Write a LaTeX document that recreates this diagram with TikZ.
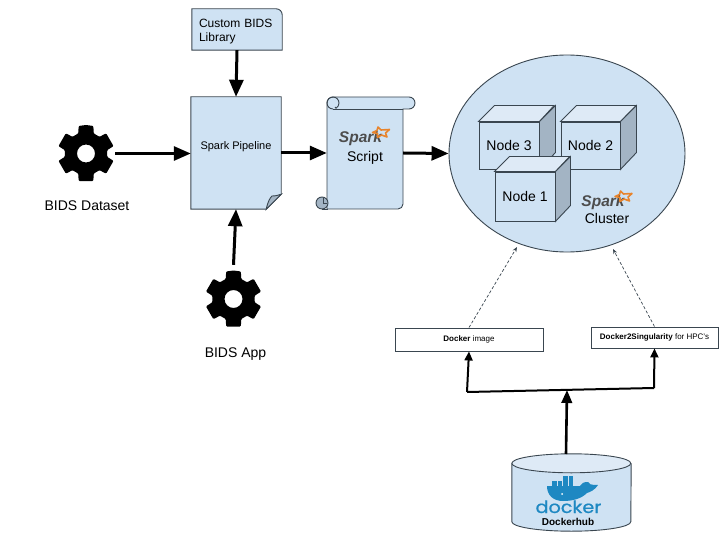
\documentclass[tikz,border=0pt]{standalone}
\usepackage{fontspec}
\setmainfont{Liberation Sans}
\newfontfamily\dockerfont[FakeBold=0.6]{Poppins}
\usepackage{tikz}
\usetikzlibrary{arrows.meta,backgrounds,shapes.geometric}

\definecolor{shapeblue}{HTML}{CFE2F3}
\definecolor{shapelight}{HTML}{DEEAF6}
\definecolor{shapedark}{HTML}{A3B4C4}
\definecolor{shapeline}{HTML}{3A4650}
\definecolor{sparkorange}{HTML}{E8842C}
\definecolor{sparkgrey}{HTML}{4D4D4D}
\definecolor{dockerblue}{HTML}{1E88C2}

\tikzset{
  shp/.style={draw=shapeline,fill=shapeblue,line width=0.9pt},
  shpdark/.style={draw=shapeline,fill=shapedark,line width=0.9pt},
  shplight/.style={draw=shapeline,fill=shapelight,line width=0.9pt},
  holder/.style={rectangle,inner sep=0pt},
  lbl/.style={inner sep=0pt,font=\fontsize{14}{16}\selectfont,text height=10pt,text depth=0pt},
  cubeface/.style={shp,rectangle,inner sep=0pt,font=\fontsize{14}{16}\selectfont,text height=10pt,text depth=0pt},
  whitebox/.style={draw=shapeline,fill=white,line width=0.9pt,rectangle,inner sep=0pt,font=\fontsize{8}{10}\selectfont},
  bigarrow/.style={line width=3pt,-{Triangle[length=17pt,width=14pt]}},
  midarrow/.style={line width=2.6pt,-{Triangle[length=13pt,width=10.5pt]}},
  smallarrow/.style={line width=2pt,-{Triangle[length=9pt,width=8pt]}},
  dasharrow/.style={line width=0.7pt,dash pattern=on 3pt off 2pt,-{Stealth[length=5pt,width=4pt]},draw=shapeline},
  gearicon/.pic={
    \fill[black,even odd rule,rounded corners=1pt] (90:28.5pt) -- (105:28.5pt) -- (111:21.5pt)
      \foreach \a in {150,210,270,330,390}{ -- (\a-21:21.5pt) -- (\a-15:28.5pt) -- (\a+15:28.5pt) -- (\a+21:21.5pt)}
      -- (69:21.5pt) -- (75:28.5pt) -- cycle (0,0) circle[radius=9pt];
  },
  sparklogo/.pic={
    \node[anchor=base,inner sep=0pt,text=sparkgrey,font=\fontsize{15.5}{17}\selectfont\bfseries\itshape] (-word) at (-1.5,0) {Spark};
    \draw[sparkorange,line width=1.6pt,line join=round] (16,-16) -- (19,-13) -- (27.5,-13.5) -- (23.5,-10)
      -- (25,-6) -- (19.5,-8) -- (15.5,-5.5) -- (15.5,-9.5) -- (10.5,-10.5) -- (15,-12.5) -- cycle;
  }
}

\newcommand{\cubesides}[1]{
  \draw[shplight] (#1.north west) -- ++(16,-16) -- ++(59.5,0) -- (#1.north east) -- cycle;
  \draw[shpdark] (#1.north east) -- ++(16,-16) -- ++(0,47) -- (#1.south east) -- cycle;
}

\begin{document}
\begin{tikzpicture}[x=1pt,y=-1pt]
  \useasboundingbox (0,0) rectangle (720,540);

  % left column
  \node[holder,minimum width=90pt,minimum height=41pt] (library) at (237,29.5) {};
  \draw[shp] (library.south west) -- (library.north west) [rounded corners=6pt] -- (library.north east) [sharp corners] -- (library.south east) -- cycle;
  \node[inner sep=0pt,text width=76pt,align=left,font=\fontsize{12}{14}\selectfont] (libraryText) at (237,31.5) {Custom BIDS\\Library};
  \node[holder,minimum width=90pt,minimum height=112pt] (pipeline) at (236,153) {};
  \draw[shp] (pipeline.north west) -- (pipeline.north east) -- ([yshift=15pt]pipeline.south east) -- ([xshift=-15pt]pipeline.south east) -- (pipeline.south west) -- cycle;
  \draw[shpdark] ([yshift=15pt]pipeline.south east) -- ([xshift=-15pt]pipeline.south east) .. controls (268,201) and (270,198) .. (272,196) .. controls (276,196) and (279,195) .. cycle;
  \node[inner sep=0pt,font=\fontsize{11}{13}\selectfont] (pipelineText) at (236,147) {Spark Pipeline};
  \node[holder,circle,minimum size=58pt] (gearData) at (86,153.5) {};
  \node[holder,circle,minimum size=58pt] (gearApp) at (233.5,299) {};
  \pic at (gearData) {gearicon};
  \pic at (gearApp) {gearicon};
  \node[lbl] (dataText) at (87,206) {BIDS Dataset};
  \node[lbl] (appText) at (235.5,352) {BIDS App};

  % script
  \node[holder,minimum width=76pt,minimum height=112pt] (script) at (365,153) {};
  \draw[shp] (327,103) arc[start angle=180,end angle=90,radius=6pt] -- (409,97) arc[start angle=90,end angle=-90,radius=6pt] -- (403,109)
    -- (403,204) arc[start angle=0,end angle=-90,radius=5pt] -- (327,209) -- cycle;
  \draw[shapeline,line width=0.9pt] (333,109) -- (403,109);
  \draw[shapeline,line width=0.9pt] (333,109) arc[start angle=270,end angle=90,radius=6pt] arc[start angle=90,end angle=-60,radius=6pt] -- (335,107);
  \draw[shpdark] (322,203) circle[radius=6pt];
  \draw[shapeline,line width=0.9pt] (322,209) -- (328,209);
  \draw[shapeline,line width=0.7pt] (323,198) -- (323,203) -- (327,203);
  \pic (sparkS) at (362,143) {sparklogo};
  \node[lbl] (scriptText) at (365,157) {Script};

  % cluster
  \node[shp,ellipse,inner sep=0pt,minimum width=236pt,minimum height=197pt] (cluster) at (567,153.5) {};
  \node[cubeface,minimum width=60pt,minimum height=47pt] (nodeC) at (509,145.5) {Node 3};
  \cubesides{nodeC}
  \node[cubeface,minimum width=59pt,minimum height=47pt] (nodeB) at (590.5,145.5) {Node 2};
  \cubesides{nodeB}
  \node[cubeface,minimum width=60pt,minimum height=49pt] (nodeA) at (525,196.5) {Node 1};
  \draw[shplight] (nodeA.north west) -- ++(15,-15) -- ++(60,0) -- (nodeA.north east) -- cycle;
  \draw[shpdark] (nodeA.north east) -- ++(15,-15) -- ++(0,49) -- (nodeA.south east) -- cycle;
  \pic (sparkC) at (604.5,207) {sparklogo};
  \node[lbl] (clusterText) at (607,219) {Cluster};

  % docker
  \node[whitebox,minimum width=148pt,minimum height=23pt] (dockerImage) at (469,339.5) {\textbf{Docker} image};
  \node[whitebox,minimum width=127pt,minimum height=21pt] (dockerSing) at (654.5,337.5) {\textbf{Docker2Singularity} for HPC's};
  \node[holder,minimum width=119pt,minimum height=77pt] (hub) at (571.5,492.5) {};
  \draw[shp] ([yshift=-9.5pt]hub.north west) -- ([yshift=9.5pt]hub.south west) arc[start angle=180,end angle=360,x radius=59.5pt,y radius=9.5pt] -- ([yshift=-9.5pt]hub.north east);
  \draw[shplight] ([yshift=-9.5pt]hub.north west) arc[start angle=180,end angle=-180,x radius=59.5pt,y radius=9.5pt];
  \fill[dockerblue] (547,486) -- (580,486) .. controls (581,483) and (584,482) .. (588,482) .. controls (589,484) and (590,485) .. (598,485)
    .. controls (595,490) and (590,492) .. (587,493) .. controls (581,499) and (572,501) .. (563,501) .. controls (553,501) and (547,495) .. (547,486) -- cycle;
  \fill[white] (562,494) circle[radius=1pt];
  \foreach \i in {552,557.5,563,568.5}{
    \fill[dockerblue] (\i,481) rectangle ++(4.7,4.5);
  }
  \fill[dockerblue] (568.5,476) rectangle ++(4.7,4.5);
  \fill[dockerblue] (563,476) rectangle ++(4.7,4.5);
  \node[anchor=base,inner sep=0pt,text=dockerblue,font=\fontsize{17}{18}\dockerfont,xscale=1.13,text height=12pt,text depth=0pt] (dockerWord) at (568.5,513) {docker};
  \node[anchor=base,inner sep=0pt,font=\fontsize{10}{12}\selectfont\bfseries,text height=7pt,text depth=0pt] (hubText) at (568,525) {Dockerhub};

  % connectors
  \coordinate (hubTop) at (566,454);
  \coordinate (jMid) at (567,390);
  \coordinate (jLeft) at (467,392);
  \coordinate (jRight) at (654,388);
  \coordinate (tipLeft) at (517,247);
  \coordinate (tipRight) at (613,249);
  \draw[bigarrow] (library.south) -- (pipeline.north);
  \draw[bigarrow] (gearData.east) -- (pipeline.west |- gearData.east);
  \draw[bigarrow] ([yshift=5pt]gearApp.north) -- (pipeline.south);
  \draw[bigarrow] (pipeline.east) -- (script.west);
  \draw[bigarrow] (script.east) -- (cluster.west);
  \draw[dasharrow] (dockerImage.north) -- (tipLeft);
  \draw[dasharrow] (dockerSing.north) -- (tipRight);
  \draw[midarrow] (hubTop) -- (jMid);
  \draw[line width=2pt,line join=round] (jLeft) -- (jRight);
  \draw[smallarrow] (jLeft) -- (dockerImage.south);
  \draw[smallarrow] (jRight) -- (dockerSing.south);
\end{tikzpicture}
\end{document}
